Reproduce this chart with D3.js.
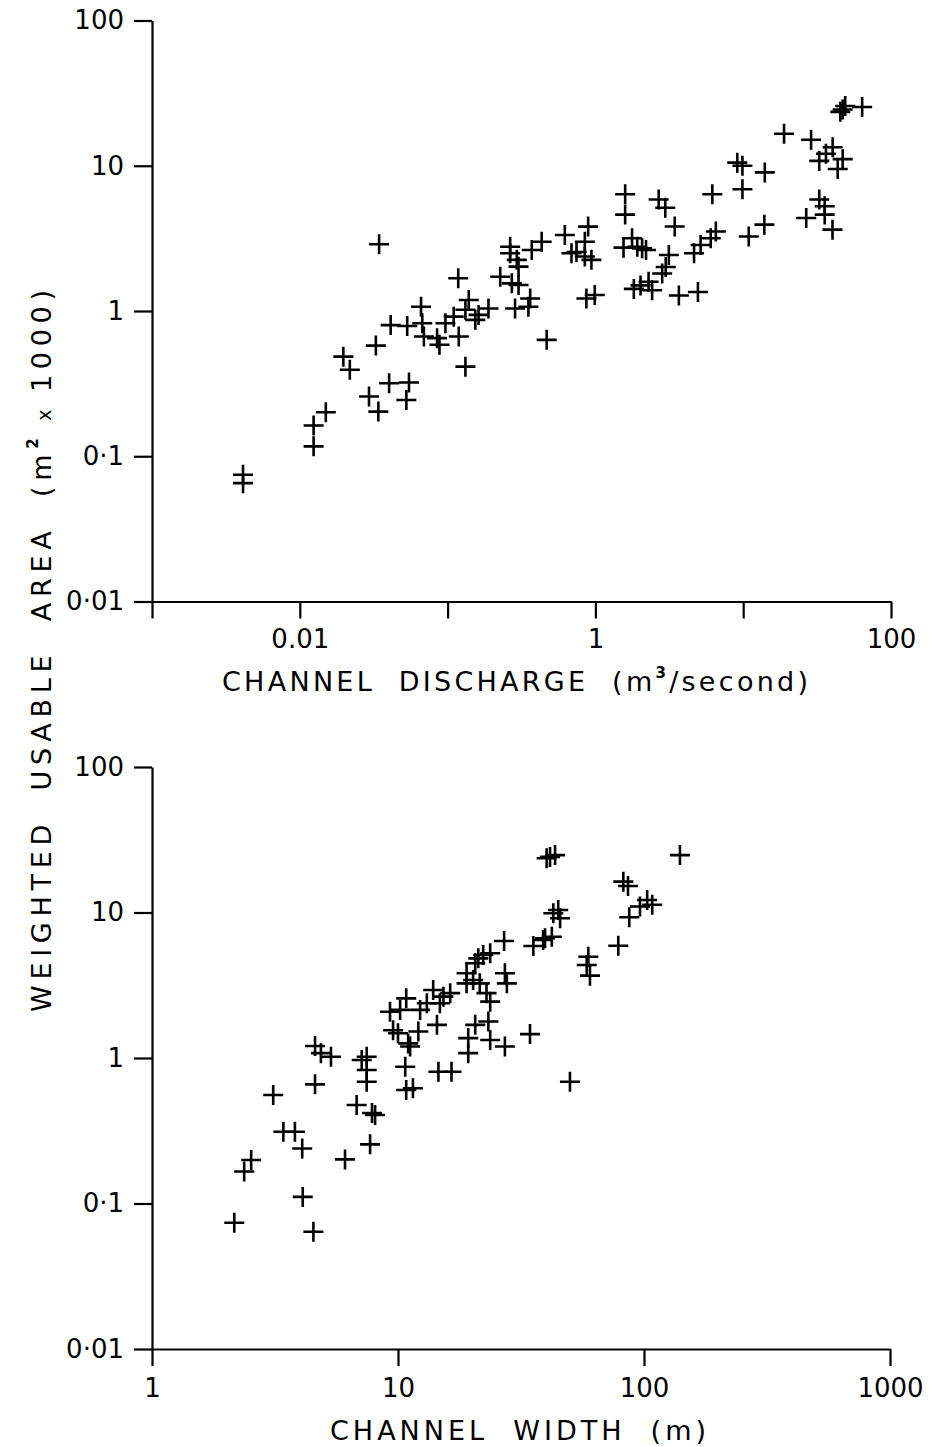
<!DOCTYPE html>
<html>
<head>
<meta charset="utf-8">
<script src="https://cdn.jsdelivr.net/npm/d3@7/dist/d3.min.js"></script>
<style>
  html, body { margin: 0; padding: 0; background: #fff; }
  svg { display: block; }
  text { font-family: "DejaVu Sans", "Liberation Sans", sans-serif; fill: #000; }
  text.title { white-space: pre; }
</style>
</head>
<body>
<svg id="chart" width="942" height="1447"></svg>
<script>
// ---- Top panel: channel discharge (m3/s) vs weighted usable area (m2 x 1000)
const dischargeQ = [0.0344,0.00413,0.00413,0.0124,0.0124,0.0150,0.0197,0.0218,0.0327,0.0412,
  0.0533,0.0661,0.0674,0.0691,0.0294,0.0340,0.0402,0.0548,0.0526,0.0849,
  0.0881,0.0967,0.110,0.119,0.118,0.132,0.139,0.132,0.154,0.162,
  0.189,0.227,0.265,0.265,0.294,0.302,0.272,0.302,0.371,0.433,
  0.362,0.286,0.352,0.468,0.621,0.893,0.848,0.689,0.848,0.940,
  0.869,0.99,0.745,47.1,45.4,49.0,63.8,18.9,28.8,36.3,
  40.3,47.1,32.7,43.6,9.12,9.88,14.0,9.88,6.18,1.59,
  1.59,2.68,2.97,3.44,1.77,1.92,1.55,2.07,2.20,3.14,
  2.99,2.83,4.65,5.15,6.03,6.53,10.9,13.9,2.02,2.29,
  2.42,1.82,3.67,4.94,26.7,32.7,35.6,35.6,40.2];
const dischargeWUA = [2.88,0.0745,0.0653,0.163,0.117,0.201,0.485,0.394,0.578,0.80,
  0.789,1.07,0.824,0.667,0.258,0.203,0.318,0.322,0.244,0.650,
  0.585,0.824,0.914,0.667,1.68,0.414,1.19,1.02,0.869,0.94,
  1.04,1.72,2.77,2.50,2.25,2.02,1.55,1.51,2.63,3.00,
  1.22,1.04,1.07,0.633,3.34,3.81,3.00,2.50,2.37,2.25,
  1.22,1.29,2.55,24.4,23.5,25.8,25.4,16.6,15.1,12.1,
  13.4,11.1,10.8,9.49,10.5,10.0,9.0,6.89,6.37,6.37,
  4.61,5.86,5.14,3.82,3.17,2.77,2.73,2.70,2.63,2.43,
  2.01,1.81,2.50,2.85,3.17,3.53,3.26,3.93,1.50,1.59,
  1.39,1.42,1.28,1.35,4.37,5.86,5.26,4.61,3.63];

// ---- Bottom panel: channel width (m) vs weighted usable area (m2 x 1000)
const channelWidth = [4.60,4.86,5.34,4.60,3.11,3.42,3.81,4.08,2.53,2.37,
  6.09,4.10,2.16,4.53,6.79,8.07,7.84,7.70,7.46,7.46,
  7.46,7.12,10.7,10.8,11.5,10.0,11.0,9.55,11.2,12.1,
  14.6,16.5,10.8,10.2,13.9,15.3,16.3,14.8,13.1,14.4,
  12.3,22.2,23.7,20.6,19.0,20.2,19.0,21.5,27.2,27.7,
  22.9,23.7,20.6,23.3,19.3,19.3,23.7,27.2,34.4,50.0,
  40.2,43.5,41.5,140,82.4,86.1,103,108,96.3,87.1,
  78.6,59.4,58.5,60.3,44.8,45.6,39.6,42.2,27.0,21.2,
  35.5,38.9,42.8,9.28];
const widthWUA = [1.21,1.08,1.02,0.659,0.557,0.311,0.311,0.239,0.199,0.166,
  0.201,0.111,0.0738,0.064,0.475,0.406,0.419,0.255,1.02,0.828,
  0.687,0.968,0.871,0.603,0.619,1.48,1.26,1.55,1.20,1.52,
  0.805,0.805,2.57,2.14,2.93,2.64,2.79,2.38,2.38,1.69,
  2.14,5.10,5.25,4.48,3.82,3.44,3.26,3.26,3.82,3.26,
  2.79,2.44,1.69,1.78,1.37,1.08,1.33,1.20,1.46,0.687,
  23.6,24.8,24.1,24.8,16.3,15.2,12.2,11.3,11.0,9.27,
  5.91,4.97,4.36,3.68,10.4,9.12,6.65,6.82,6.37,4.84,
  5.89,6.47,9.88,2.08];

// ---- Ticks and labels
const yTicks = [0.01, 0.1, 1, 10, 100];
const yTickLabels = ["0·01", "0·1", "1", "10", "100"];
const qTicks = [0.001, 0.01, 0.1, 1, 10, 100];
const qTickLabels = ["", "0.01", "", "1", "", "100"];
const wTicks = [1, 10, 100, 1000];
const wTickLabels = ["1", "10", "100", "1000"];

const svg = d3.select("#chart");
const FS = 26;   // tick labels
const TS = 27;   // titles

function fmt(ticks, labels) {
  return d => { const i = ticks.indexOf(d); return i >= 0 ? labels[i] : ""; };
}

function cross(g, pts, x, y) {
  const s = 10;
  g.selectAll("path.pt").data(pts).join("path")
    .attr("class", "pt")
    .attr("d", d => {
      const cx = x(d[0]), cy = y(d[1]);
      return `M${cx - s},${cy}H${cx + s}M${cx},${cy - s}V${cy + s}`;
    })
    .attr("stroke", "#000").attr("stroke-width", 2.6).attr("fill", "none");
}

function styleAxis(g) {
  g.selectAll(".domain").attr("stroke", "#000").attr("stroke-width", 2.2);
  g.selectAll(".tick line").attr("stroke", "#000").attr("stroke-width", 2.2);
  g.selectAll(".tick text").attr("font-size", FS).attr("fill", "#000")
    .attr("font-family", '"DejaVu Sans", sans-serif');
}

// ---------- Top panel
const xTop = d3.scaleLog().domain([0.001, 100]).range([152, 891]);
const yTop = d3.scaleLog().domain([0.01, 100]).range([601.5, 20.5]);

const gTopY = svg.append("g").attr("transform", "translate(152,0)")
  .call(d3.axisLeft(yTop).tickValues(yTicks).tickFormat(fmt(yTicks, yTickLabels))
    .tickSize(18).tickSizeOuter(0).tickPadding(10));
styleAxis(gTopY);
const gTopX = svg.append("g").attr("transform", "translate(0,601.5)")
  .call(d3.axisBottom(xTop).tickValues(qTicks).tickFormat(fmt(qTicks, qTickLabels))
    .tickSize(17).tickSizeOuter(0).tickPadding(11));
styleAxis(gTopX);

cross(svg.append("g"), dischargeQ.map((q, i) => [q, dischargeWUA[i]]), xTop, yTop);

const t1 = svg.append("text").attr("class", "title").attr("x", 515).attr("y", 691)
  .attr("text-anchor", "middle")
  .attr("font-size", TS).attr("textLength", 586).attr("lengthAdjust", "spacing");
t1.append("tspan").text("CHANNEL  DISCHARGE  (m");
t1.append("tspan").attr("font-size", 15).attr("font-weight", "bold").attr("dy", -13).text("3");
t1.append("tspan").attr("dy", 13).text("/second)");

// ---------- Bottom panel
const xBot = d3.scaleLog().domain([1, 1000]).range([152, 890]);
const yBot = d3.scaleLog().domain([0.01, 100]).range([1349, 767]);

const gBotY = svg.append("g").attr("transform", "translate(152,0)")
  .call(d3.axisLeft(yBot).tickValues(yTicks).tickFormat(fmt(yTicks, yTickLabels))
    .tickSize(18).tickSizeOuter(0).tickPadding(10));
styleAxis(gBotY);
const gBotX = svg.append("g").attr("transform", "translate(0,1349)")
  .call(d3.axisBottom(xBot).tickValues(wTicks).tickFormat(fmt(wTicks, wTickLabels))
    .tickSize(17).tickSizeOuter(0).tickPadding(13));
styleAxis(gBotX);

cross(svg.append("g"), channelWidth.map((w, i) => [w, widthWUA[i]]), xBot, yBot);

svg.append("text").attr("class", "title").attr("x", 518).attr("y", 1440)
  .attr("text-anchor", "middle")
  .attr("font-size", TS).attr("textLength", 376).attr("lengthAdjust", "spacing")
  .text("CHANNEL  WIDTH  (m)");

// ---------- Shared y title
const yt = svg.append("text").attr("class", "title")
  .attr("transform", "translate(51,651) rotate(-90)")
  .attr("text-anchor", "middle").attr("font-size", TS)
  .attr("textLength", 722).attr("lengthAdjust", "spacing");
yt.append("tspan").text("WEIGHTED  USABLE  AREA  (m");
yt.append("tspan").attr("font-size", 15).attr("font-weight", "bold").attr("dy", -13).text("2");
yt.append("tspan").attr("dy", 13).attr("font-size", 19).text(" x ");
yt.append("tspan").text("1000)");
</script>
</body>
</html>
